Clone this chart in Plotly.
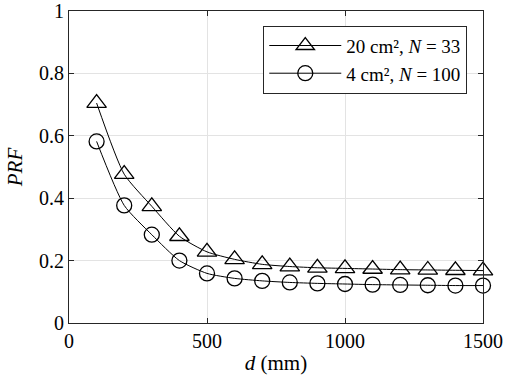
import plotly.graph_objects as go

d_mm = [100, 200, 300, 400, 500, 600, 700, 800, 900, 1000, 1100, 1200, 1300, 1400, 1500]
prf_20cm2 = [0.705, 0.477, 0.374, 0.278, 0.228, 0.204, 0.188, 0.181, 0.177, 0.175, 0.173, 0.171, 0.170, 0.169, 0.168]
prf_4cm2 = [0.582, 0.377, 0.283, 0.200, 0.159, 0.143, 0.135, 0.130, 0.127, 0.125, 0.123, 0.122, 0.121, 0.120, 0.120]
names = ["20 cm², <i>N</i> = 33", "4 cm², <i>N</i> = 100"]
x_ticks = [0, 500, 1000, 1500]
y_ticks = [0, 0.2, 0.4, 0.6, 0.8, 1]
y_ticklabels = ["0", "0.2", "0.4", "0.6", "0.8", "1"]

FONT = "Liberation Serif"

fig = go.Figure()
fig.add_trace(go.Scatter(
    x=d_mm, y=prf_20cm2, name=names[0], mode="lines+markers", cliponaxis=False,
    line=dict(color="black", width=1, shape="spline", smoothing=0.6),
    marker=dict(symbol="triangle-up-open", size=17, color="black", line=dict(width=1.3)),
))
fig.add_trace(go.Scatter(
    x=d_mm, y=prf_4cm2, name=names[1], mode="lines+markers", cliponaxis=False,
    line=dict(color="black", width=1, shape="spline", smoothing=0.6),
    marker=dict(symbol="circle-open", size=15, color="black", line=dict(width=1.3)),
))

axis_common = dict(
    showline=True, linecolor="#262626", linewidth=1.2, mirror="ticks",
    ticks="inside", ticklen=5, tickcolor="#262626",
    showgrid=True, gridcolor="#e3e3e3", gridwidth=1, zeroline=False,
    tickfont=dict(family=FONT, size=20, color="black"),
    automargin=False,
)
fig.update_xaxes(range=[0, 1500], tickvals=x_ticks,
                 title=dict(text="<i>d</i> (mm)", font=dict(family=FONT, size=21, color="black"), standoff=4),
                 **axis_common)
fig.update_yaxes(range=[0, 1], tickvals=y_ticks, ticktext=y_ticklabels,
                 title=dict(text="<i>PRF</i>", font=dict(family=FONT, size=21, color="black"), standoff=10),
                 **axis_common)

fig.update_layout(
    width=510, height=386,
    margin=dict(l=69, r=27, t=11, b=63, autoexpand=False),
    paper_bgcolor="white", plot_bgcolor="white",
    font=dict(family=FONT, color="black"),
    showlegend=True,
    legend=dict(
        x=0.962, y=0.953, xanchor="right", yanchor="top",
        bgcolor="white", bordercolor="#262626", borderwidth=1,
        font=dict(family=FONT, size=19, color="black"),
        itemwidth=72, tracegroupgap=0,
    ),
)

fig.write_html("out.html", config={"displayModeBar": False},
               post_script="document.body.style.margin='0';")
